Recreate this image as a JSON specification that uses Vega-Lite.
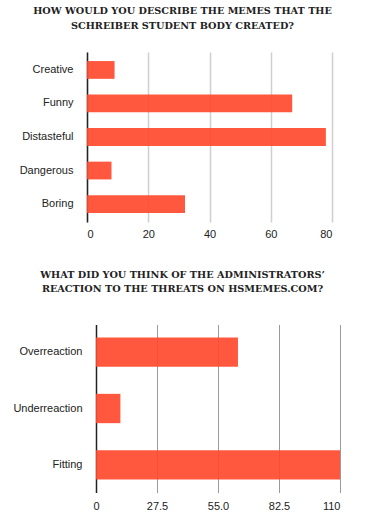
{
  "$schema": "https://vega.github.io/schema/vega-lite/v6.json",
  "background": "white",
  "padding": {"left": 12, "top": 6, "right": 5, "bottom": 5},
  "spacing": 30.5,
  "config": {
    "view": {"stroke": null},
    "axis": {"labelFont": "Liberation Sans", "labelFontSize": 11, "labelColor": "#222", "ticks": false, "title": null},
    "title": {"font": "DejaVu Serif", "fontWeight": "bold", "fontSize": 9.7, "color": "#222222", "lineHeight": 15}
  },
  "vconcat": [
    {
      "title": {"text": ["HOW WOULD YOU DESCRIBE THE MEMES THAT THE", "SCHREIBER STUDENT BODY CREATED?"], "anchor": "middle", "frame": "group", "dx": -27, "offset": 21},
      "width": 245,
      "height": 170,
      "data": {"values": [
        {"answer": "Creative", "count": 9},
        {"answer": "Funny", "count": 67},
        {"answer": "Distasteful", "count": 78},
        {"answer": "Dangerous", "count": 8},
        {"answer": "Boring", "count": 32}
      ]},
      "mark": {"type": "bar", "color": "#ff4a2e", "opacity": 0.92},
      "encoding": {
        "y": {"field": "answer", "type": "nominal", "sort": null,
              "scale": {"paddingInner": 0.47, "paddingOuter": 0.27},
              "axis": {"domainColor": "#222", "domainWidth": 1.5, "labelPadding": 14}},
        "x": {"field": "count", "type": "quantitative",
              "scale": {"domain": [0, 80], "nice": false},
              "axis": {"values": [0, 20, 40, 60, 80], "domain": false, "gridColor": "#cfcfcf", "gridWidth": 1.5, "labelPadding": 6}}
      }
    },
    {
      "title": {"text": ["WHAT DID YOU THINK OF THE ADMINISTRATORS’", "REACTION TO THE THREATS ON HSMEMES.COM?"], "anchor": "middle", "frame": "group", "dx": -31, "offset": 31, "lineHeight": 14},
      "width": 253,
      "height": 168,
      "data": {"values": [
        {"answer": "Overreaction", "count": 64},
        {"answer": "Underreaction", "count": 11},
        {"answer": "Fitting", "count": 110}
      ]},
      "mark": {"type": "bar", "color": "#ff4a2e", "opacity": 0.92},
      "encoding": {
        "y": {"field": "answer", "type": "nominal", "sort": null,
              "scale": {"paddingInner": 0.48, "paddingOuter": 0.23},
              "axis": {"domainColor": "#222", "domainWidth": 1.5, "labelPadding": 14, "offset": -9}},
        "x": {"field": "count", "type": "quantitative",
              "scale": {"domain": [-4.06, 110], "nice": false, "zero": false},
              "axis": {"values": [0, 27.5, 55, 82.5, 110], "labelExpr": "datum.value == 0 ? '0' : datum.value == 110 ? '110' : format(datum.value, '.1f')", "domain": false, "gridColor": "#9a9a9a", "gridWidth": 1, "labelPadding": 8}}
      }
    }
  ]
}
